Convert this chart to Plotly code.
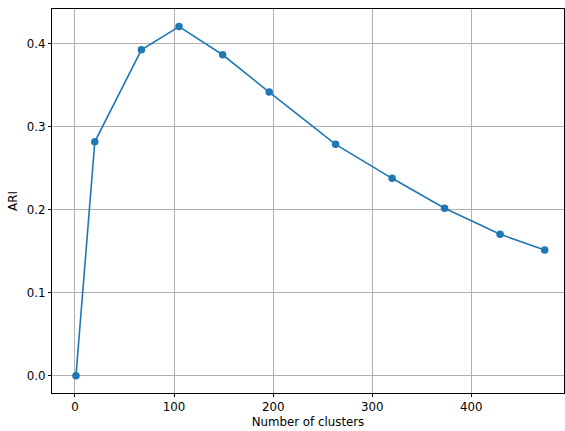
import plotly.graph_objects as go

n_clusters = [1, 20, 67, 105, 149, 196, 263, 320, 373, 429, 474]
ari = [0.0, 0.282, 0.393, 0.421, 0.387, 0.342, 0.279, 0.238, 0.202, 0.1705, 0.1516]

x_ticks = [0, 100, 200, 300, 400]
y_ticks = [0.0, 0.1, 0.2, 0.3, 0.4]

fig = go.Figure()
fig.add_trace(go.Scatter(
    x=n_clusters, y=ari, mode="lines+markers",
    line=dict(color="#1f77b4", width=1.6),
    marker=dict(color="#1f77b4", size=7.5),
    showlegend=False,
))

font = dict(family="DejaVu Sans", size=11.8, color="#000000")
axis_common = dict(
    showline=True, linecolor="#000000", linewidth=1, mirror=True,
    ticks="outside", ticklen=3, tickwidth=0.8, tickcolor="#000000",
    showgrid=True, gridcolor="#b0b0b0", gridwidth=0.8,
    zeroline=False, tickfont=font,
)
fig.update_layout(
    width=565, height=431,
    margin=dict(l=52, r=1, t=9, b=38),
    paper_bgcolor="white", plot_bgcolor="white",
    font=font,
    xaxis=dict(range=[-23.2, 493.5], tickvals=x_ticks,
               ticktext=[str(v) for v in x_ticks],
               title=dict(text="Number of clusters", font=font, standoff=4),
               **axis_common),
    yaxis=dict(range=[-0.0209, 0.4422], tickvals=y_ticks,
               ticktext=[f"{v:.1f}" for v in y_ticks],
               title=dict(text="ARI", font=font, standoff=6),
               **axis_common),
)
fig.write_html(
    "out.html",
    config={"displayModeBar": False},
    post_script="document.body.style.margin='0';document.body.style.overflow='hidden';",
)
